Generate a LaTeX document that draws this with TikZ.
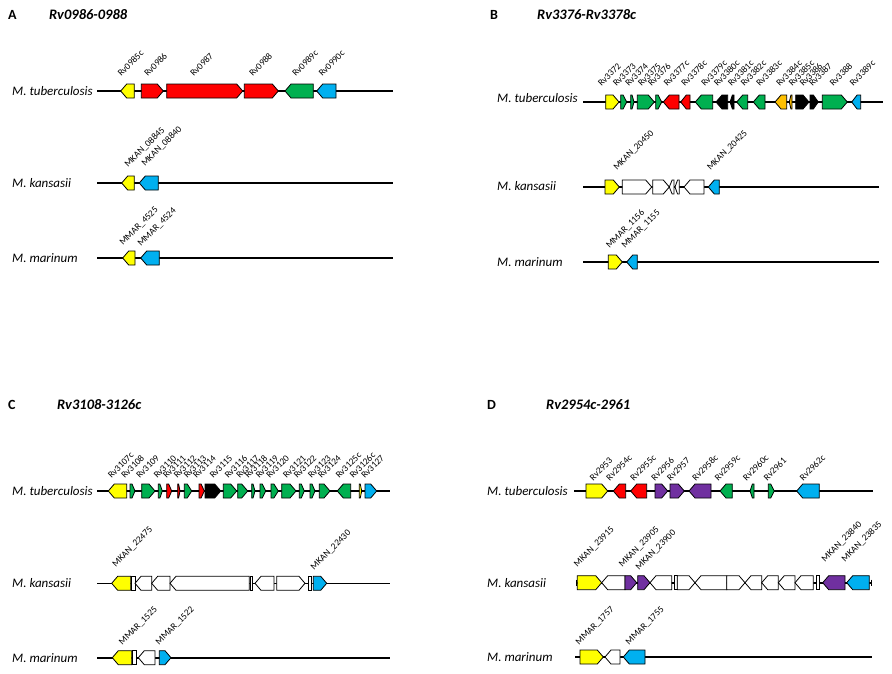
\documentclass[tikz,border=0pt]{standalone}
\usepackage{fontspec}
\setmainfont{Carlito}
\definecolor{gy}{HTML}{FFFF00}
\definecolor{gr}{HTML}{FF0000}
\definecolor{gg}{HTML}{00B050}
\definecolor{gb}{HTML}{00B0F0}
\definecolor{go}{HTML}{FFC000}
\definecolor{gp}{HTML}{7030A0}
\definecolor{gk}{HTML}{000000}
\definecolor{gw}{HTML}{FFFFFF}
\tikzset{
  gene/.style={draw=black, line width=0.8pt, line join=miter},
  backbone/.style={line width=1.6pt, black},
  glabel/.style={font=\fontsize{9.3}{10}\selectfont, rotate=45, anchor=south west, inner sep=0pt},
  species/.style={font=\fontsize{13}{14}\selectfont\itshape, anchor=west, inner sep=0pt},
  plabel/.style={font=\fontsize{14}{16}\selectfont\bfseries, anchor=west, inner sep=0pt},
  ptitle/.style={font=\fontsize{14.5}{16}\selectfont\bfseries\itshape, anchor=west, inner sep=0pt},
}
% right-pointing gene: x1, x2, y, colour
\newcommand{\gR}[4]{%
  \pgfmathsetmacro\hl{min(6,0.6*(#2-#1))}%
  \draw[gene, fill=#4] (#1,#3-7) -- ({#2-\hl},#3-7) -- (#2,#3) -- ({#2-\hl},#3+7) -- (#1,#3+7) -- cycle;}
% left-pointing gene
\newcommand{\gL}[4]{%
  \pgfmathsetmacro\hl{min(6,0.6*(#2-#1))}%
  \draw[gene, fill=#4] (#1,#3) -- ({#1+\hl},#3-7) -- (#2,#3-7) -- (#2,#3+7) -- ({#1+\hl},#3+7) -- cycle;}
% tiny gene bar
\newcommand{\gB}[3]{\draw[gene, fill=white] (#1,#3-7) rectangle (#2,#3+7);}
% rotated gene label
\newcommand{\glab}[3]{\node[glabel] at (#1,#2) {#3};}
\begin{document}
\begin{tikzpicture}[x=1pt,y=-1pt]
\useasboundingbox[fill=white] (0,0) rectangle (892,673);

% ================= Panel A =================
\node[plabel] (pA) at (8,15) {A};
\node[ptitle] (tA) at (49,15) {Rv0986-0988};
\node[species] (sA1) at (12,91) {M. tuberculosis};
\node[species] (sA2) at (12,183) {M. kansasii};
\node[species] (sA3) at (12,258) {M. marinum};
\draw[backbone] (97,91) -- (393,91);
\draw[backbone] (97,183) -- (393,183);
\draw[backbone] (97,258) -- (393,258);
\gL{120.7}{134.3}{91}{gy}
\gR{141.3}{163.3}{91}{gr}
\gR{166.7}{242.7}{91}{gr}
\gR{244.3}{278.3}{91}{gr}
\gL{285}{313.3}{91}{gg}
\gL{316.7}{336}{91}{gb}
\glab{121.5}{77}{Rv0985c}
\glab{148}{77}{Rv0986}
\glab{194}{77}{Rv0987}
\glab{253}{77}{Rv0988}
\glab{296}{77}{Rv0989c}
\glab{322.5}{77}{Rv0990c}
\gL{121.7}{134.3}{183}{gy}
\gL{139.3}{158.3}{183}{gb}
\glab{129}{169}{MKAN\_08845}
\glab{146}{168}{MKAN\_08840}
\gL{122.7}{135}{258}{gy}
\gL{140.7}{159.3}{258}{gb}
\glab{124}{247}{MMAR\_4525}
\glab{142}{248}{MMAR\_4524}

% ================= Panel B =================
\node[plabel] (pB) at (490,15) {B};
\node[ptitle] (tB) at (537,15) {Rv3376-Rv3378c};
\node[species] (sB1) at (497,98) {M. tuberculosis};
\node[species] (sB2) at (497,186) {M. kansasii};
\node[species] (sB3) at (497,262) {M. marinum};
\draw[backbone] (583,102) -- (883,102);
\draw[backbone] (583,187) -- (879,187);
\draw[backbone] (583,262) -- (879,262);
\gR{605.7}{619}{102}{gy}
\gR{620.7}{626.7}{102}{gg}
\gR{630.7}{634}{102}{gg}
\gR{637.3}{654.3}{102}{gg}
\gR{655.7}{661.7}{102}{gg}
\gL{663.3}{679}{102}{gr}
\gL{680.7}{690}{102}{gr}
\gL{695.3}{712.7}{102}{gg}
\gL{716}{727.7}{102}{gk}
\gL{730}{734}{102}{gk}
\gL{736.7}{747.7}{102}{gg}
\gL{753.3}{765}{102}{gg}
\gL{775}{786.7}{102}{go}
\gL{789.3}{792}{102}{go}
\gR{795.7}{809}{102}{gk}
\gR{810}{818.3}{102}{gk}
\gR{822.3}{847.3}{102}{gg}
\gL{851.7}{860.7}{102}{gb}
\glab{601.7}{87}{Rv3372}
\glab{616.7}{87}{Rv3373}
\glab{629}{87}{Rv3374}
\glab{641.7}{87}{Rv3375}
\glab{651.7}{87}{Rv3376}
\glab{667.3}{87}{Rv3377c}
\glab{685}{87}{Rv3378c}
\glab{705}{87}{Rv3379c}
\glab{717.7}{87}{Rv3380c}
\glab{731.7}{87}{Rv3381c}
\glab{744.3}{87}{Rv3382c}
\glab{760}{87}{Rv3383c}
\glab{780}{87}{Rv3384c}
\glab{792.3}{87}{Rv3385c}
\glab{803.3}{87}{Rv3386}
\glab{812.7}{87}{Rv3387}
\glab{833.3}{87}{Rv3388}
\glab{853.3}{87}{Rv3389c}
\gR{605}{619.3}{187}{gy}
\gR{622.3}{651.7}{187}{gw}
\gR{652.7}{669.3}{187}{gw}
\gL{669.3}{674}{187}{gw}
\gL{675}{679.3}{187}{gw}
\gL{684}{704}{187}{gw}
\gL{708.3}{719.3}{187}{gb}
\glab{618}{172}{MKAN\_20450}
\glab{711.5}{172}{MKAN\_20425}
\gR{608.3}{622.3}{262}{gy}
\gL{626.7}{637.3}{262}{gb}
\glab{610.5}{250}{MMAR\_1156}
\glab{626}{250}{MMAR\_1155}

% ================= Panel C =================
\node[plabel] (pC) at (8,405) {C};
\node[ptitle] (tC) at (57,405) {Rv3108-3126c};
\node[species] (sC1) at (12,491) {M. tuberculosis};
\node[species] (sC2) at (12,583) {M. kansasii};
\node[species] (sC3) at (12,658) {M. marinum};
\draw[backbone] (97,491) -- (390,491);
\draw[backbone] (97,583.3) -- (390,583.3);
\draw[backbone] (97,657.7) -- (390,657.7);
\gL{108.3}{126.7}{491}{gy}
\gR{130}{135}{491}{gg}
\gR{141.7}{155}{491}{gg}
\gR{158.3}{162.3}{491}{gg}
\gR{166.7}{171.7}{491}{gr}
\gR{177.7}{180}{491}{gr}
\gR{184.3}{191.7}{491}{gg}
\gR{199}{204.3}{491}{gr}
\gR{205}{220.7}{491}{gk}
\gR{223.3}{236.7}{491}{gg}
\gR{237.7}{247.7}{491}{gg}
\gR{251.7}{255}{491}{gg}
\gR{260}{265.7}{491}{gg}
\gR{271}{278.3}{491}{gg}
\gR{281.7}{296}{491}{gg}
\gR{299.3}{304.3}{491}{gg}
\gR{310}{315}{491}{gg}
\gR{319.3}{330}{491}{gg}
\gL{337.3}{350.7}{491}{gg}
\gR{359.3}{361.7}{491}{gy}
\gR{365}{376.7}{491}{gb}
\glab{111.7}{479}{Rv3107c}
\glab{125}{479}{Rv3108}
\glab{140}{479}{Rv3109}
\glab{157.3}{479}{Rv3110}
\glab{166.7}{479}{Rv3111}
\glab{177.3}{479}{Rv3112}
\glab{187.3}{479}{Rv3113}
\glab{196.7}{479}{Rv3114}
\glab{213.3}{479}{Rv3115}
\glab{228.3}{479}{Rv3116}
\glab{240}{479}{Rv3117}
\glab{248.3}{479}{Rv3118}
\glab{259.3}{479}{Rv3119}
\glab{270}{479}{Rv3120}
\glab{286.7}{479}{Rv3121}
\glab{297.3}{479}{Rv3122}
\glab{311.7}{479}{Rv3123}
\glab{321.7}{479}{Rv3124}
\glab{339.3}{479}{Rv3125c}
\glab{353.3}{479}{Rv3126c}
\glab{365}{479}{Rv3127}
\gL{111.7}{130.7}{583.3}{gy}
\gB{131}{135}{583.3}
\gL{135}{151.7}{583.3}{gw}
\gL{151.7}{170}{583.3}{gw}
\gL{170}{249.3}{583.3}{gw}
\gB{250}{252.7}{583.3}
\gL{255}{274}{583.3}{gw}
\gR{276.7}{305}{583.3}{gw}
\gB{308.3}{311.7}{583.3}
\gR{313.3}{326.7}{583.3}{gb}
\glab{116.7}{568.3}{MKAN\_22475}
\glab{315}{571.7}{MKAN\_22430}
\gL{112.3}{131.7}{657.7}{gy}
\gB{132.3}{136.7}{657.7}
\gL{138.3}{155}{657.7}{gw}
\gR{159.3}{171}{657.7}{gb}
\glab{123.3}{646.7}{MMAR\_1525}
\glab{160}{646.7}{MMAR\_1522}

% ================= Panel D =================
\node[plabel] (pD) at (487,405) {D};
\node[ptitle] (tD) at (546,405) {Rv2954c-2961};
\node[species] (sD1) at (487,491) {M. tuberculosis};
\node[species] (sD2) at (487,583) {M. kansasii};
\node[species] (sD3) at (487,657) {M. marinum};
\draw[backbone] (574,491) -- (873,491);
\draw[backbone] (576.7,582.7) -- (871.7,582.7);
\draw[line width=1pt] (576.7,579.5) -- (576.7,585.9);
\draw[line width=1pt] (871.7,579.5) -- (871.7,585.9);
\draw[backbone] (575,657) -- (872,657);
\gR{586}{607.7}{491}{gy}
\gL{613.3}{625.7}{491}{gr}
\gL{630.7}{646.7}{491}{gr}
\gR{655}{667.7}{491}{gp}
\gR{670}{684.3}{491}{gp}
\gL{689}{711}{491}{gp}
\gL{720}{732.3}{491}{gg}
\gL{750}{754}{491}{gg}
\gR{768.3}{774.3}{491}{gg}
\gL{796.7}{819.3}{491}{gb}
\glab{593.3}{481.5}{Rv2953}
\glab{610}{481.5}{Rv2954c}
\glab{634}{481.5}{Rv2955c}
\glab{655}{481.5}{Rv2956}
\glab{670.7}{481.5}{Rv2957}
\glab{696}{481.5}{Rv2958c}
\glab{718.3}{481.5}{Rv2959c}
\glab{746.7}{481.5}{Rv2960c}
\glab{767.3}{481.5}{Rv2961}
\glab{803.3}{481.5}{Rv2962c}
\gR{577.3}{601.7}{582.7}{gy}
\gL{601.7}{625}{582.7}{gw}
\gR{625}{636.7}{582.7}{gp}
\gR{637.7}{650}{582.7}{gp}
\gL{650}{671.7}{582.7}{gw}
\gB{674.3}{677.3}{582.7}
\gR{677.3}{695}{582.7}{gw}
\gL{695}{726.7}{582.7}{gw}
\gR{726.7}{745}{582.7}{gw}
\gL{745}{761.7}{582.7}{gw}
\gL{761.7}{778.3}{582.7}{gw}
\gL{778.3}{795}{582.7}{gw}
\gL{795}{813.3}{582.7}{gw}
\gB{816}{819.3}{582.7}
\gL{822.7}{845}{582.7}{gp}
\gL{846.7}{869.3}{582.7}{gb}
\glab{578.3}{568.3}{MKAN\_23915}
\glab{623.3}{568.3}{MKAN\_23905}
\glab{640}{571.7}{MKAN\_23900}
\glab{826}{563.3}{MKAN\_23840}
\glab{846}{563.3}{MKAN\_23835}
\gR{580}{603.3}{657}{gy}
\gL{605}{620}{657}{gw}
\gL{623.3}{645}{657}{gb}
\glab{580}{646.7}{MMAR\_1757}
\glab{630}{646.7}{MMAR\_1755}
\end{tikzpicture}
\end{document}
